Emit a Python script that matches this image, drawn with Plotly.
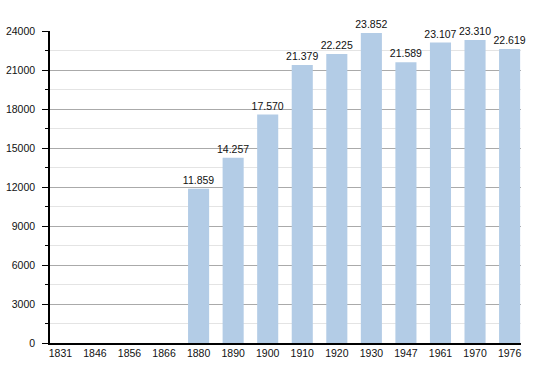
import plotly.graph_objects as go

years = ["1831", "1846", "1856", "1866", "1880", "1890", "1900", "1910", "1920",
         "1930", "1947", "1961", "1970", "1976"]
population = [None, None, None, None, 11859, 14257, 17570, 21379, 22225,
              23852, 21589, 23107, 23310, 22619]
y_ticks = [0, 3000, 6000, 9000, 12000, 15000, 18000, 21000, 24000]

xs = list(range(len(years)))
labels = ["" if v is None else f"{v:,}".replace(",", ".") for v in population]

FONT = "Liberation Sans, Arial"

fig = go.Figure(go.Bar(
    x=xs, y=population, text=labels, textposition="outside",
    constraintext="none",
    marker=dict(color="#b3cce6", line=dict(width=0)),
    textfont=dict(size=10.5, color="#111111", family=FONT),
    cliponaxis=False, width=0.61,
))

fig.update_layout(
    width=550, height=373,
    margin=dict(l=50, r=29, t=31, b=30, autoexpand=False),
    paper_bgcolor="white", plot_bgcolor="white",
    font=dict(family=FONT, size=10.5, color="#111111"),
    showlegend=False,
    xaxis=dict(
        range=[-0.3, 13.33], tickvals=xs, ticktext=years, showgrid=False,
        showline=True, linecolor="black", linewidth=1.5, ticks="", zeroline=False,
        tickfont=dict(size=10.5), automargin=False,
    ),
    yaxis=dict(
        range=[0, 24000], tickvals=y_ticks, tickformat="d",
        showline=True, linecolor="black", linewidth=1.5,
        ticks="outside", ticklen=6, tickcolor="black", ticklabelstandoff=5,
        showgrid=True, gridcolor="#aaaaaa", gridwidth=1, zeroline=False,
        minor=dict(dtick=1500, showgrid=True, gridcolor="#e4e4e4",
                   ticks="outside", ticklen=3, tickcolor="black"),
        tickfont=dict(size=10.5), automargin=False,
    ),
)

fig.write_html(
    "out.html",
    config={"displayModeBar": False},
    post_script="document.body.style.margin='0';document.body.style.overflow='hidden';",
)
